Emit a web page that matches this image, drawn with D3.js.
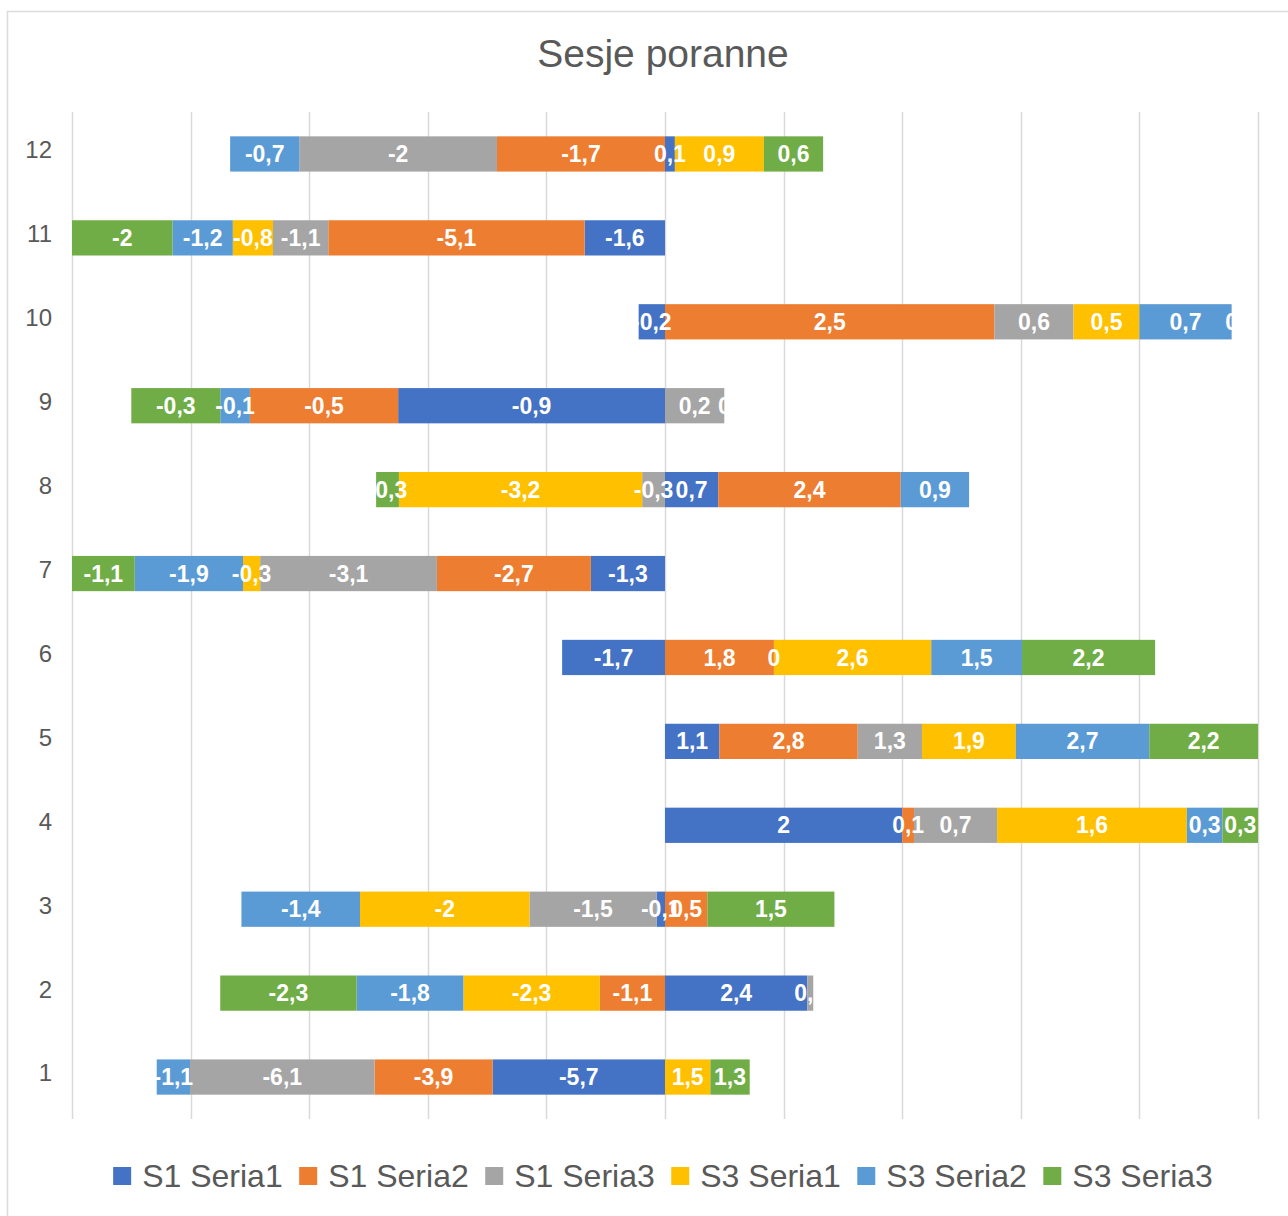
<!DOCTYPE html>
<html lang="pl">
<head>
<meta charset="UTF-8">
<title>Sesje poranne</title>
<script src="https://cdn.jsdelivr.net/npm/d3@7"></script>
<style>
  body { margin: 0; background: #fff; }
  text { font-family: "Liberation Sans", Arial, Helvetica, sans-serif; }
</style>
</head>
<body>
<script>
// categories, bottom to top
let categories = ["1", "2", "3", "4", "5", "6", "7", "8", "9", "10", "11", "12"]
let seriesNames = ["S1 Seria1", "S1 Seria2", "S1 Seria3", "S3 Seria1", "S3 Seria2", "S3 Seria3"]
let colors = ["#4472C4", "#ED7D31", "#A5A5A5", "#FFC000", "#5B9BD5", "#70AD47"]

let s1Seria1 = [-5.7, 2.4, -0.1, 2, 1.1, -1.7, -1.3, 0.7, -0.9, -0.2, -1.6, 0.1]
let s1Seria2 = [-3.9, -1.1, 0.5, 0.1, 2.8, 1.8, -2.7, 2.4, -0.5, 2.5, -5.1, -1.7]
let s1Seria3 = [-6.1, 0.1, -1.5, 0.7, 1.3, 0, -3.1, -0.3, 0.2, 0.6, -1.1, -2]
let s3Seria1 = [1.5, -2.3, -2, 1.6, 1.9, 2.6, -0.3, -3.2, 0, 0.5, -0.8, 0.9]
let s3Seria2 = [-1.1, -1.8, -1.4, 0.3, 2.7, 1.5, -1.9, 0.9, -0.1, 0.7, -1.2, -0.7]
let s3Seria3 = [1.3, -2.3, 1.5, 0.3, 2.2, 2.2, -1.1, -0.3, -0.3, 0, -2, 0.6]

let values = [s1Seria1, s1Seria2, s1Seria3, s3Seria1, s3Seria2, s3Seria3]

let width = 1288
let height = 1216
let plotLeft = 72, plotRight = 1258, plotTop = 112, plotBottom = 1119

let svg = d3.select("body").append("svg")
    .attr("width", width)
    .attr("height", height)

// chart frame (runs off the right/bottom edge like the screenshot)
svg.append("rect")
    .attr("x", 7.5).attr("y", 11.5)
    .attr("width", 1400).attr("height", 1300)
    .attr("fill", "#fff")
    .attr("stroke", "#dcdcdc")
    .attr("stroke-width", 1.5)

svg.append("text")
    .attr("x", 663).attr("y", 67)
    .attr("text-anchor", "middle")
    .attr("font-size", 39)
    .attr("fill", "#595959")
    .text("Sesje poranne")

// 100% stacked: share of the row's absolute total
let x = d3.scaleLinear().domain([-1, 1]).range([plotLeft, plotRight])
let y = d3.scaleBand()
    .domain(categories.slice().reverse())
    .range([plotTop, plotBottom])
    .paddingInner(0.58)
    .paddingOuter(0.29)

svg.append("g")
    .selectAll("line")
    .data(x.ticks(10))
    .join("line")
    .attr("x1", d => Math.round(x(d)) + 0.5)
    .attr("x2", d => Math.round(x(d)) + 0.5)
    .attr("y1", plotTop).attr("y2", plotBottom)
    .attr("stroke", "#d9d9d9")
    .attr("stroke-width", 1.5)

svg.append("g")
    .selectAll("text")
    .data(categories)
    .join("text")
    .attr("x", 52)
    .attr("y", d => y(d) + y.bandwidth() / 2 - 4)
    .attr("dy", "0.35em")
    .attr("text-anchor", "end")
    .attr("font-size", 24)
    .attr("fill", "#595959")
    .text(d => d)

let segs = []
categories.forEach((c, i) => {
    let total = d3.sum(values, s => Math.abs(s[i]))
    let pos = 0, neg = 0
    values.forEach((s, k) => {
        let v = s[i]
        let f = Math.abs(v) / total
        let x0, x1
        if (v < 0) { x0 = neg - f; x1 = neg; neg -= f }
        else { x0 = pos; x1 = pos + f; pos += f }
        segs.push({ cat: c, k: k, v: v, x0: x0, x1: x1 })
    })
})

svg.append("g")
    .selectAll("rect")
    .data(segs)
    .join("rect")
    .attr("x", d => x(d.x0))
    .attr("width", d => x(d.x1) - x(d.x0))
    .attr("y", d => y(d.cat))
    .attr("height", y.bandwidth())
    .attr("fill", d => colors[d.k])

svg.append("g")
    .selectAll("text")
    .data(segs)
    .join("text")
    .attr("x", d => x((d.x0 + d.x1) / 2))
    .attr("y", d => y(d.cat) + y.bandwidth() / 2)
    .attr("dy", "0.35em")
    .attr("text-anchor", "middle")
    .attr("font-size", 23)
    .attr("font-weight", "bold")
    .attr("fill", "#fff")
    .text(d => String(d.v).replace(".", ","))

// legend, centred under the plot
let legend = svg.append("g")
let items = legend.selectAll("g")
    .data(seriesNames)
    .join("g")
items.append("rect")
    .attr("width", 18).attr("height", 18)
    .attr("y", -9)
    .attr("fill", (d, i) => colors[i])
items.append("text")
    .attr("x", 29)
    .attr("dy", "0.35em")
    .attr("font-size", 32)
    .attr("fill", "#595959")
    .text(d => d)

let offs = 0
items.each(function () {
    let w = d3.select(this).select("text").node().getComputedTextLength()
    d3.select(this).attr("transform", `translate(${offs},0)`)
    offs += 29 + w + 16.5
})
let lw = offs - 16.5
legend.attr("transform", `translate(${663 - lw / 2},1176)`)
</script>
</body>
</html>
